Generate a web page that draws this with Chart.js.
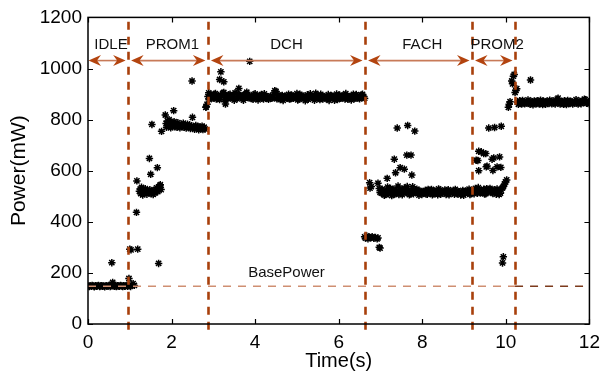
<!DOCTYPE html>
<html><head><meta charset="utf-8">
<script src="https://cdn.jsdelivr.net/npm/chart.js@4/dist/chart.umd.min.js"></script>
<style>html,body{margin:0;padding:0;background:#fff;}#wrap{width:607px;height:378px;}</style>
</head><body><div id="wrap"><canvas id="c" width="607" height="378"></canvas></div>
<script>
// ---- axis ticks ----
const xTicks = [0, 2, 4, 6, 8, 10, 12];
const yTicks = [0, 200, 400, 600, 800, 1000, 1200];

// ---- RRC states ----
const stateNames = ['IDLE', 'PROM1', 'DCH', 'FACH', 'PROM2'];
const stateBounds = [0, 0.96, 2.87, 6.63, 9.19, 10.22];
const stateLabelX = [0.55, 2.02, 4.75, 8.0, 9.79];
const basePower = 148;
const basePowerLabel = 'BasePower';

// ---- measured power samples [time (s), power (mW)] ----
const idlePoints = [[0.00,149],[0.03,147],[0.05,150],[0.08,148],[0.10,151],[0.13,149],[0.15,146],[0.18,150],[0.20,148],[0.23,149],[0.25,151],[0.28,147],[0.30,149],[0.33,150],[0.35,148],[0.38,149],[0.40,146],[0.43,150],[0.45,149],[0.48,148],[0.50,151],[0.53,147],[0.55,149],[0.57,240],[0.59,163],[0.60,150],[0.63,148],[0.65,149],[0.68,147],[0.70,150],[0.73,149],[0.75,148],[0.78,151],[0.80,149],[0.83,147],[0.85,150],[0.88,148],[0.90,149],[0.93,151],[0.95,148],[0.98,178],[1.00,150],[1.02,147],[1.05,152],[1.08,158],[1.11,151]];

const prom1Points = [[1.00,293],[1.03,290],[1.16,437],[1.17,560],[1.19,293],[1.23,520],[1.25,528],[1.26,510],[1.28,535],[1.30,517],[1.31,505],[1.33,524],[1.35,512],[1.37,530],[1.39,515],[1.41,508],[1.43,522],[1.45,514],[1.47,648],[1.48,526],[1.50,586],[1.51,510],[1.53,781],[1.54,520],[1.56,507],[1.58,518],[1.60,512],[1.62,527],[1.64,533],[1.66,612],[1.67,518],[1.69,237],[1.70,530],[1.72,541],[1.73,545],[1.75,526],[1.76,754],[1.85,818],[1.87,785],[1.88,770],[1.90,795],[1.92,778],[1.94,800],[1.96,783],[1.98,768],[2.00,790],[2.02,776],[2.05,835],[2.06,792],[2.08,772],[2.10,784],[2.13,770],[2.15,788],[2.18,776],[2.20,768],[2.23,781],[2.25,773],[2.28,786],[2.30,770],[2.33,778],[2.35,767],[2.38,782],[2.40,772],[2.43,779],[2.45,765],[2.48,775],[2.49,951],[2.50,809],[2.53,770],[2.55,762],[2.58,777],[2.60,768],[2.63,773],[2.65,760],[2.68,771],[2.70,765],[2.73,774],[2.75,761],[2.78,770],[2.80,763],[2.82,848],[2.83,850]];

const dchPoints = [[2.85,860],[2.87,890],[2.89,905],[2.90,878],[3.15,957],[3.18,987],[3.25,948],[3.29,861],[3.61,922],[3.87,1028],
[2.95,896],[3.00,884],[3.05,902],[3.10,889],[3.15,878],[3.20,893],[3.25,906],[3.30,887],[3.35,881],[3.40,899],[3.45,891],[3.50,876],[3.55,903],[3.60,888],[3.65,895],[3.70,882],[3.75,897],[3.80,907],[3.85,885],[3.90,890],[3.95,879],[4.00,901],[4.05,893],[4.10,886],[4.15,898],[4.20,880],[4.25,894],[4.30,884],[4.35,888],[4.40,883],[4.45,899],[4.50,910],[4.55,892],[4.60,878],[4.65,895],[4.70,890],[4.75,884],[4.80,899],[4.85,881],[4.90,893],[4.95,887],[5.00,902],[5.05,879],[5.10,895],[5.15,888],[5.20,874],[5.25,897],[5.30,885],[5.35,891],[5.40,883],[5.45,903],[5.50,886],[5.55,878],[5.60,894],[5.65,889],[5.70,881],[5.75,898],[5.80,884],[5.85,892],[5.90,876],[5.95,900],[6.00,887],[6.05,883],[6.10,895],[6.15,880],[6.20,891],[6.25,886],[6.30,877],[6.35,899],[6.40,884],[6.45,893],[6.50,881],[6.55,896],[6.60,888],
[2.97,885],[3.02,899],[3.07,880],[3.12,894],[3.17,887],[3.22,903],[3.27,879],[3.32,892],[3.37,897],[3.42,884],[3.47,890],[3.52,905],[3.57,881],[3.62,896],[3.67,889],[3.72,876],[3.77,900],[3.82,886],[3.87,893],[3.92,882],[3.97,898],[4.02,888],[4.07,877],[4.12,895],[4.17,884],[4.22,901],[4.27,887],[4.32,879],[4.37,893],[4.42,886],[4.47,913],[4.52,881],[4.57,897],[4.62,889],[4.67,875],[4.72,892],[4.77,885],[4.82,880],[4.87,896],[4.92,883],[4.97,890],[5.02,877],[5.07,899],[5.12,884],[5.17,892],[5.22,887],[5.27,879],[5.32,901],[5.37,888],[5.42,876],[5.47,893],[5.52,884],[5.57,899],[5.62,880],[5.67,890],[5.72,886],[5.77,875],[5.82,895],[5.87,883],[5.92,889],[5.97,878],[6.02,896],[6.07,885],[6.12,892],[6.17,902],[6.22,879],[6.27,889],[6.32,894],[6.37,881],[6.42,898],[6.47,885],[6.52,890],[6.57,899],[6.62,883]];

const fachPoints = [[6.62,341],[6.64,336],[6.67,345],[6.70,333],[6.73,340],[6.76,338],[6.80,342],[6.84,335],[6.88,339],[6.92,333],[6.94,337],[6.97,300],[6.99,297],[6.74,553],[6.75,532],[6.78,538],[6.94,551],
[7.16,570],[7.33,645],[7.36,592],[7.40,767],[7.47,612],[7.57,606],[7.63,661],[7.65,777],[7.73,661],[7.75,583],[7.82,755],[9.29,641],
[6.97,530],[7.02,512],[7.07,522],[7.12,507],[7.17,536],[7.22,515],[7.27,503],[7.32,528],[7.37,511],[7.42,540],[7.47,518],[7.52,506],[7.57,532],[7.62,514],[7.67,524],[7.72,509],[7.77,537],[7.82,516],[7.87,528],[7.92,504],[7.97,519],[8.02,512],[8.07,523],[8.12,508],[8.17,517],[8.22,527],[8.27,510],[8.32,520],[8.37,506],[8.42,524],[8.47,513],[8.52,518],[8.57,507],[8.62,526],[8.67,512],[8.72,519],[8.77,508],[8.82,521],[8.87,514],[8.92,505],[8.97,523],[9.02,511],[9.07,518],[9.12,528],[9.17,510],
[6.99,515],[7.04,528],[7.09,504],[7.14,519],[7.19,510],[7.24,531],[7.29,517],[7.34,509],[7.39,522],[7.44,507],[7.49,527],[7.54,513],[7.59,520],[7.64,538],[7.69,506],[7.74,516],[7.79,510],[7.84,525],[7.89,512],[7.94,521],[7.99,507],[8.04,518],[8.09,509],[8.14,527],[8.19,514],[8.24,506],[8.29,521],[8.34,512],[8.39,529],[8.44,508],[8.49,516],[8.54,525],[8.59,511],[8.64,506],[8.69,520],[8.74,514],[8.79,527],[8.84,509],[8.89,518],[8.94,512],[8.99,504],[9.04,521],[9.09,513],[9.14,507],[9.19,519]];

const prom2Points = [[9.33,640],[9.35,600],[9.35,676],[9.41,674],[9.47,667],[9.52,667],[9.53,615],[9.55,618],[9.59,767],[9.67,645],[9.69,601],[9.71,650],[9.73,769],[9.79,615],[9.85,654],[9.88,613],[9.89,774],[9.92,239],[9.94,263],
[9.22,520],[9.27,531],[9.32,512],[9.37,525],[9.42,515],[9.47,528],[9.52,510],[9.57,522],[9.62,531],[9.67,514],[9.72,526],[9.77,508],[9.82,519],[9.87,512],[9.92,533],[9.97,548],[10.02,564],
[9.24,510],[9.29,524],[9.34,534],[9.39,513],[9.44,521],[9.49,509],[9.54,530],[9.59,517],[9.64,525],[9.69,511],[9.74,520],[9.79,529],[9.84,507],[9.89,524],[9.94,538],[9.99,556],
[10.06,848],[10.08,860],[10.10,870],[10.14,951],[10.16,940],[10.18,970],[10.20,977],[10.22,906],[10.24,915],[10.26,921]];

const dchTailPoints = [[10.59,955],
[10.28,868],[10.33,874],[10.38,861],[10.43,870],[10.48,865],[10.53,877],[10.58,860],[10.63,869],[10.68,873],[10.73,862],[10.78,867],[10.83,876],[10.88,859],[10.93,866],[10.98,872],[11.03,863],[11.08,869],[11.13,874],[11.18,861],[11.23,880],[11.28,866],[11.33,871],[11.38,860],[11.43,868],[11.48,875],[11.53,863],[11.58,870],[11.63,866],[11.68,878],[11.73,861],[11.78,869],[11.83,874],[11.88,880],[11.93,864],[11.98,870],
[10.30,860],[10.35,866],[10.40,875],[10.45,862],[10.50,869],[10.55,864],[10.60,872],[10.65,858],[10.70,866],[10.75,874],[10.80,861],[10.85,868],[10.90,873],[10.95,860],[11.00,867],[11.05,876],[11.10,862],[11.15,866],[11.20,871],[11.25,884],[11.30,861],[11.35,868],[11.40,874],[11.45,859],[11.50,867],[11.55,872],[11.60,861],[11.65,870],[11.70,865],[11.75,873],[11.80,862],[11.85,868],[11.90,878],[11.95,866],[12.00,861]];

const FONT = "'Liberation Sans', Arial, Helvetica, sans-serif";
Chart.defaults.font.family = FONT;
Chart.defaults.color = '#000';

const DIV_COLOR = '#a8400c';
const ARROW_COLOR = '#b3440f';
const SHAFT_COLOR = '#c87a58';

function arrowHead(ctx, tx, y, dir) {
  ctx.beginPath();
  ctx.moveTo(tx, y);
  ctx.lineTo(tx - dir * 12.5, y - 5.5);
  ctx.lineTo(tx - dir * 8.5, y);
  ctx.lineTo(tx - dir * 12.5, y + 5.5);
  ctx.closePath();
  ctx.fill();
}

const overlay = {
  id: 'overlay',
  afterDatasetsDraw(chart) {
    const {ctx, chartArea: a, scales: {x, y}} = chart;
    ctx.save();
    const by = y.getPixelForValue(basePower);
    const splitX = x.getPixelForValue(stateBounds[stateBounds.length - 1]);
    ctx.lineWidth = 1.4;
    ctx.setLineDash([8, 7]);
    ctx.strokeStyle = '#cf8f72';
    ctx.beginPath(); ctx.moveTo(a.left, by); ctx.lineTo(splitX, by); ctx.stroke();
    ctx.strokeStyle = '#7c3a1c';
    ctx.beginPath(); ctx.moveTo(splitX, by); ctx.lineTo(a.right, by); ctx.stroke();
    ctx.setLineDash([]);
    ctx.fillStyle = '#111';
    ctx.font = '15px ' + FONT;
    ctx.textAlign = 'center';
    ctx.textBaseline = 'middle';
    ctx.fillText(basePowerLabel, x.getPixelForValue(4.75), y.getPixelForValue(201));

    ctx.strokeStyle = DIV_COLOR;
    ctx.lineWidth = 2.6;
    ctx.setLineDash([8, 7]);
    ctx.lineDashOffset = 10.7;
    for (let i = 1; i < stateBounds.length; i++) {
      const px = Math.round(x.getPixelForValue(stateBounds[i])) + 0.5;
      ctx.beginPath(); ctx.moveTo(px, a.top); ctx.lineTo(px, a.bottom + 9); ctx.stroke();
    }
    ctx.setLineDash([]);

    const ay = y.getPixelForValue(1031);
    const ly = y.getPixelForValue(1092);
    for (let i = 0; i < stateNames.length; i++) {
      const x1 = x.getPixelForValue(stateBounds[i]) + (i === 0 ? 0.5 : 3);
      const x2 = x.getPixelForValue(stateBounds[i + 1]) - 2.5;
      ctx.strokeStyle = SHAFT_COLOR;
      ctx.lineWidth = 1.6;
      ctx.beginPath(); ctx.moveTo(x1 + 8, ay); ctx.lineTo(x2 - 8, ay); ctx.stroke();
      ctx.fillStyle = ARROW_COLOR;
      arrowHead(ctx, x1, ay, -1);
      arrowHead(ctx, x2, ay, 1);
      ctx.fillStyle = '#111';
      ctx.fillText(stateNames[i], x.getPixelForValue(stateLabelX[i]), ly);
    }
    ctx.restore();
  },
  afterDraw(chart) {
    const {ctx, chartArea: a, scales: {x, y}} = chart;
    ctx.save();
    ctx.strokeStyle = '#000';
    ctx.lineWidth = 1.5;
    ctx.strokeRect(a.left, a.top, a.right - a.left, a.bottom - a.top);
    ctx.lineWidth = 1.2;
    const L = 5;
    ctx.beginPath();
    xTicks.forEach(v => {
      const px = Math.round(x.getPixelForValue(v)) + 0.5;
      ctx.moveTo(px, a.bottom); ctx.lineTo(px, a.bottom - L);
      ctx.moveTo(px, a.top); ctx.lineTo(px, a.top + L);
    });
    yTicks.forEach(v => {
      const py = Math.round(y.getPixelForValue(v)) + 0.5;
      ctx.moveTo(a.left, py); ctx.lineTo(a.left + L, py);
      ctx.moveTo(a.right, py); ctx.lineTo(a.right - L, py);
    });
    ctx.stroke();
    ctx.restore();
  }
};

const allPoints = [].concat(idlePoints, prom1Points, dchPoints, fachPoints, prom2Points, dchTailPoints);

new Chart(document.getElementById('c'), {
  type: 'scatter',
  data: {
    datasets: [{
      data: allPoints,
      pointStyle: 'star',
      pointRadius: 3.7,
      pointBorderWidth: 1.5,
      pointBorderColor: '#000',
      pointBackgroundColor: '#000',
      showLine: false
    }]
  },
  options: {
    responsive: false,
    animation: false,
    events: [],
    layout: {padding: {top: 14, right: 14, left: 0, bottom: 0}},
    plugins: {legend: {display: false}, tooltip: {enabled: false}},
    scales: {
      x: {
        type: 'linear', min: 0, max: 12,
        afterBuildTicks: s => { s.ticks = xTicks.map(v => ({value: v})); },
        afterFit: s => { s.height = 54; },
        grid: {display: false, drawTicks: false},
        border: {display: false},
        ticks: {font: {size: 19}, color: '#000', padding: 7, maxRotation: 0, autoSkip: false, callback: v => String(v)},
        title: {display: true, text: 'Time(s)', font: {size: 20}, color: '#000', padding: {top: 0, bottom: 5}}
      },
      y: {
        type: 'linear', min: 0, max: 1200,
        afterBuildTicks: s => { s.ticks = yTicks.map(v => ({value: v})); },
        afterFit: s => { s.width = 88; },
        grid: {display: false, drawTicks: false},
        border: {display: false},
        ticks: {font: {size: 19}, color: '#000', padding: 6, autoSkip: false, callback: v => String(v)},
        title: {display: true, text: 'Power(mW)', font: {size: 21}, color: '#000', padding: {top: 7, bottom: 0}}
      }
    }
  },
  plugins: [overlay]
});
</script></body></html>
